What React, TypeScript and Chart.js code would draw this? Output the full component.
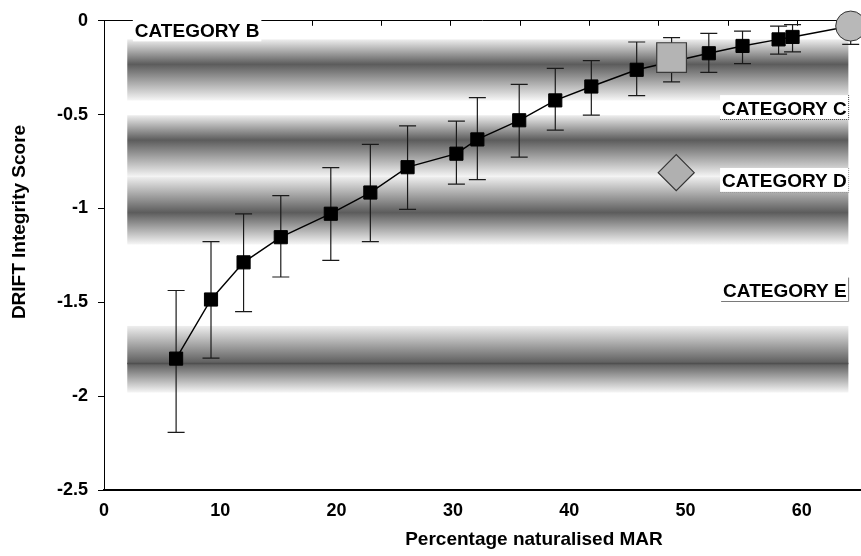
import React, { useEffect, useRef } from 'react';
import { Chart, registerables } from 'chart.js';

Chart.register(...registerables);

// ---- data ----
const marPercent = [6.2, 9.2, 12.0, 15.2, 19.5, 22.9, 26.1, 30.3, 32.1, 35.7, 38.8, 41.9, 45.8, 52.0, 54.9, 58.0, 59.2, 64.2];
const driftScore = [-1.8, -1.485, -1.287, -1.153, -1.028, -0.915, -0.78, -0.708, -0.632, -0.53, -0.424, -0.35, -0.261, -0.173, -0.134, -0.099, -0.086, -0.028];
const scoreHigh = [-1.437, -1.177, -1.029, -0.931, -0.782, -0.658, -0.56, -0.535, -0.409, -0.339, -0.254, -0.212, -0.113, -0.067, -0.055, -0.028, -0.02, 0.07];
const scoreLow = [-2.193, -1.797, -1.55, -1.365, -1.276, -1.177, -1.005, -0.87, -0.846, -0.726, -0.583, -0.503, -0.399, -0.275, -0.228, -0.178, -0.166, -0.126];

const squareX = [48.8];
const squareY = [-0.196];
const squareHigh = [-0.09];
const squareLow = [-0.325];

const diamondX = [49.2];
const diamondY = [-0.809];

const bandTop = [-0.099, -0.503, -0.832, -1.626];
const bandCore = [-0.232, -0.636, -1.022, -1.826];
const bandBottom = [-0.425, -0.832, -1.192, -1.981];
const bandFromX = 2.0;
const bandToX = 64.0;
const bandLines = [-1.826];

const categoryNames = ['CATEGORY B', 'CATEGORY C', 'CATEGORY D', 'CATEGORY E'];
const categoryBaseline = [-0.086, -0.5, -0.888, -1.472];

const xTicks = [0, 10, 20, 30, 40, 50, 60];
const yTicks = [0, -0.5, -1, -1.5, -2, -2.5];
const topTicks = [0, 1, 2, 3, 4, 5, 6, 7, 8, 9, 10];

const xTitle = 'Percentage naturalised MAR';
const yTitle = 'DRIFT Integrity Score';

const FONT = '"Liberation Sans", Arial, Helvetica, sans-serif';

const bandsPlugin = {
  id: 'bands',
  beforeDatasetsDraw(chart: any) {
    const { ctx } = chart;
    const xs = chart.scales.x;
    const ys = chart.scales.y;
    const x0 = xs.getPixelForValue(bandFromX);
    const x1 = xs.getPixelForValue(bandToX);
    ctx.save();
    for (let i = 0; i < bandTop.length; i++) {
      const t = ys.getPixelForValue(bandTop[i]);
      const c = ys.getPixelForValue(bandCore[i]);
      const b = ys.getPixelForValue(bandBottom[i]);
      const g = ctx.createLinearGradient(0, t, 0, b);
      const rel = Math.min(0.95, Math.max(0.05, (c - t) / (b - t)));
      g.addColorStop(0, '#eeeeee');
      g.addColorStop(rel, '#5c5c5c');
      g.addColorStop(1, '#f6f6f6');
      ctx.fillStyle = g;
      ctx.fillRect(x0, t, x1 - x0, b - t);
    }
    ctx.strokeStyle = '#505050';
    ctx.lineWidth = 1.5;
    for (const v of bandLines) {
      const y = ys.getPixelForValue(v);
      ctx.beginPath();
      ctx.moveTo(x0, y);
      ctx.lineTo(x1, y);
      ctx.stroke();
    }
    ctx.restore();

    // error bars
    const a = chart.chartArea;
    ctx.save();
    ctx.beginPath();
    ctx.rect(a.left, a.top, a.right - a.left, a.bottom - a.top);
    ctx.clip();
    ctx.strokeStyle = '#1a1a1a';
    ctx.lineWidth = 1.2;
    const drawBars = (xv: number[], hi: number[], lo: number[]) => {
      for (let i = 0; i < xv.length; i++) {
        const x = xs.getPixelForValue(xv[i]);
        const yh = ys.getPixelForValue(hi[i]);
        const yl = ys.getPixelForValue(lo[i]);
        ctx.beginPath();
        ctx.moveTo(x, yh);
        ctx.lineTo(x, yl);
        ctx.moveTo(x - 8.5, yh);
        ctx.lineTo(x + 8.5, yh);
        ctx.moveTo(x - 8.5, yl);
        ctx.lineTo(x + 8.5, yl);
        ctx.stroke();
      }
    };
    drawBars(marPercent, scoreHigh, scoreLow);
    drawBars(squareX, squareHigh, squareLow);
    ctx.restore();
  },
};

const labelsPlugin = {
  id: 'labels',
  afterDatasetsDraw(chart: any) {
    const { ctx } = chart;
    const xs = chart.scales.x;
    const ys = chart.scales.y;
    ctx.save();
    ctx.font = `bold 19px ${FONT}`;
    ctx.textBaseline = 'alphabetic';
    for (let i = 0; i < categoryNames.length; i++) {
      const text = categoryNames[i];
      const w = ctx.measureText(text).width;
      const base = ys.getPixelForValue(categoryBaseline[i]);
      let left: number;
      if (i === 0) {
        left = xs.getPixelForValue(2.65);
      } else {
        left = xs.getPixelForValue(63.85) - w;
      }
      const bx0 = left - 2;
      const bx1 = left + w + 2;
      const by0 = base - 19.5;
      const by1 = base + 4.4;
      ctx.fillStyle = '#ffffff';
      ctx.fillRect(bx0, by0, bx1 - bx0, by1 - by0);
      ctx.fillStyle = '#000000';
      ctx.textAlign = 'left';
      ctx.fillText(text, left, base);
      if (i > 0) {
        ctx.beginPath();
        if (i === 3) {
          ctx.setLineDash([]);
          ctx.strokeStyle = '#7a7a7a';
        } else {
          ctx.setLineDash([1, 1]);
          ctx.strokeStyle = i === 1 ? '#4a4a4a' : '#9a9a9a';
        }
        ctx.lineWidth = 1;
        ctx.moveTo(bx0, Math.round(by1) + 0.5);
        ctx.lineTo(bx1, Math.round(by1) + 0.5);
        ctx.lineTo(bx1, by0);
        ctx.stroke();
        ctx.setLineDash([]);
      }
    }
    ctx.restore();
  },
  afterDraw(chart: any) {
    const { ctx } = chart;
    ctx.save();
    ctx.fillStyle = '#000';
    ctx.font = `bold 19px ${FONT}`;
    ctx.textAlign = 'center';
    ctx.textBaseline = 'middle';
    ctx.fillText(xTitle, 534, 540);
    ctx.translate(19.5, 222);
    ctx.rotate(-Math.PI / 2);
    ctx.fillText(yTitle, 0, 0);
    ctx.restore();
  },
};

export default function App() {
  const ref = useRef<HTMLCanvasElement>(null);
  useEffect(() => {
    document.body.style.margin = '0';
    if (!ref.current) return;
    Chart.defaults.color = '#000';
    const last = marPercent.length - 1;
    const chart = new Chart(ref.current, {
      type: 'line',
      data: {
        datasets: [
          {
            type: 'scatter',
            data: squareX.map((x, i) => ({ x, y: squareY[i] })),
            pointStyle: 'rect',
            pointRadius: 21,
            pointBackgroundColor: '#b4b4b4',
            pointBorderColor: '#3a3a3a',
            pointBorderWidth: 1.2,
            showLine: false,
            clip: false,
          } as any,
          {
            type: 'scatter',
            data: diamondX.map((x, i) => ({ x, y: diamondY[i] })),
            pointStyle: 'rectRot',
            pointRadius: 18,
            pointBackgroundColor: '#b0b0b0',
            pointBorderColor: '#333333',
            pointBorderWidth: 1.2,
            showLine: false,
            clip: false,
          } as any,
          {
            type: 'line',
            data: marPercent.map((x, i) => ({ x, y: driftScore[i] })),
            borderColor: '#000',
            borderWidth: 1.4,
            tension: 0,
            fill: false,
            pointStyle: (c: any) => (c.dataIndex === last ? 'circle' : 'rect'),
            pointRadius: (c: any) => (c.dataIndex === last ? 15 : 9.3),
            pointBackgroundColor: (c: any) => (c.dataIndex === last ? '#b8b8b8' : '#000'),
            pointBorderColor: (c: any) => (c.dataIndex === last ? '#333' : '#000'),
            pointBorderWidth: 1,
            clip: false,
          } as any,
        ],
      },
      options: {
        animation: false,
        responsive: false,
        devicePixelRatio: 1,
        layout: { autoPadding: false, padding: { left: 0, right: 1, top: 0, bottom: 0 } },
        plugins: { legend: { display: false }, tooltip: { enabled: false } },
        scales: {
          x: {
            type: 'linear',
            position: 'bottom',
            min: 0,
            max: 65,
            afterBuildTicks: (s: any) => {
              s.ticks = xTicks.map((v) => ({ value: v }));
            },
            afterFit: (s: any) => {
              s.height = 66;
            },
            grid: { drawOnChartArea: false, drawTicks: false },
            border: { display: true, color: '#000', width: 2 },
            ticks: {
              padding: 10,
              color: '#000',
              font: { family: FONT, size: 18, weight: 'bold' },
              maxRotation: 0,
              callback: (v: any) => String(v),
            },
          },
          x2: {
            type: 'linear',
            position: 'top',
            min: 0,
            max: 10.9,
            afterBuildTicks: (s: any) => {
              s.ticks = topTicks.map((v) => ({ value: v }));
            },
            afterFit: (s: any) => {
              s.height = 18;
            },
            grid: { drawOnChartArea: false, drawTicks: true, tickLength: -5, color: '#000', lineWidth: 1 },
            border: { display: true, color: '#000', width: 1 },
            ticks: { display: false },
          },
          y: {
            type: 'linear',
            position: 'left',
            min: -2.5,
            max: 0,
            afterBuildTicks: (s: any) => {
              s.ticks = yTicks.map((v) => ({ value: v }));
            },
            afterFit: (s: any) => {
              s.width = 104;
            },
            grid: { drawOnChartArea: false, drawTicks: true, tickLength: 6, color: '#000', lineWidth: 1 },
            border: { display: true, color: '#000', width: 1 },
            ticks: {
              padding: 10,
              color: '#000',
              font: { family: FONT, size: 18, weight: 'bold' },
              callback: (v: any) => String(v),
            },
          },
        },
      } as any,
      plugins: [bandsPlugin, labelsPlugin],
    });
    return () => chart.destroy();
  }, []);
  return (
    <div style={{ position: 'absolute', left: 0, top: 0, width: 861, height: 556, background: '#fff' }}>
      <canvas ref={ref} width={861} height={556} />
    </div>
  );
}
